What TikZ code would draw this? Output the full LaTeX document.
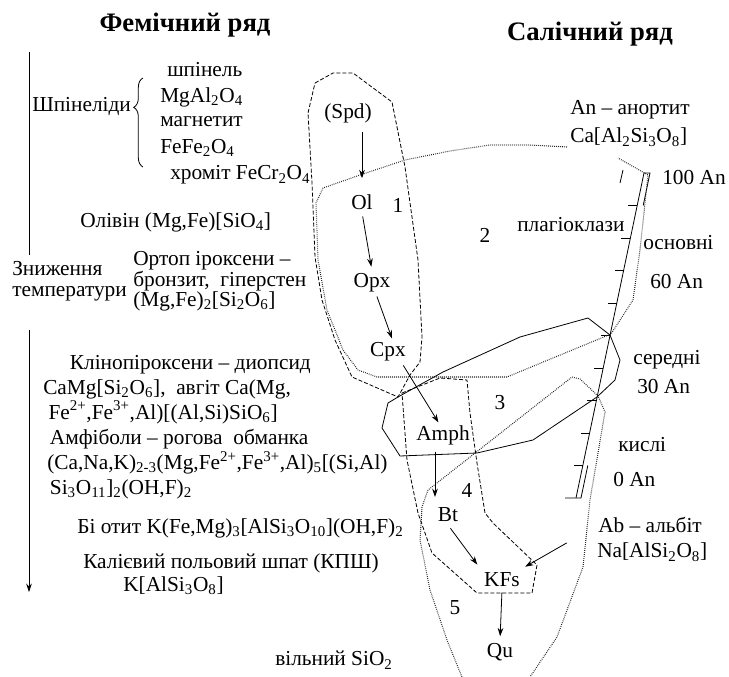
\documentclass[tikz,border=0pt]{standalone}
\usepackage{fontspec}
\setmainfont{Liberation Serif}
\usetikzlibrary{arrows.meta,calc,decorations.pathreplacing}
\newcommand{\subs}[1]{\textsubscript{#1}}
\newcommand{\sups}[1]{\textsuperscript{#1}}
\tikzset{
  heading/.style={font=\fontsize{20}{24}\selectfont\bfseries, inner sep=0pt},
  label/.style={font=\fontsize{16}{19}\selectfont, inner sep=0pt, anchor=west},
  block/.style={label, align=left},
  mineral/.style={font=\fontsize{16}{19}\selectfont, inner sep=2pt},
  zoneno/.style={font=\fontsize{16}{19}\selectfont, inner sep=0pt},
  arrow/.style={-{Stealth[length=2.2mm,width=1.5mm]}, semithick},
  dashzone/.style={dash pattern=on 3pt off 1.5pt, semithick},
  dotzone/.style={dash pattern=on 0.6pt off 0.9pt, line width=0.8pt, black!85},
  solidzone/.style={semithick},
  tick/.style={semithick}
}
\begin{document}
\begin{tikzpicture}[x=0.75pt,y=-0.75pt]
  \useasboundingbox (0,0) rectangle (729,677);
  \node[heading] (fem) at (185,25) {Фемічний ряд};
  \node[heading] (sal) at (590,34) {Салічний ряд};

  % temperature axis
  \coordinate (axtop) at (29,52);
  \coordinate (axgap1) at (29,255);
  \coordinate (axgap2) at (29,330);
  \coordinate (axbot) at (29,592);
  \draw[semithick] (axtop) -- (axgap1);
  \draw[arrow] (axgap2) -- (axbot);
  \node[block, font=\fontsize{16}{15.5}\selectfont] (cool) at (12,281) {Зниження\\температури};

  % femic series
  \node[label] (spinels) at (32,107) {Шпінеліди};
  \draw[semithick, decorate, decoration={brace, amplitude=7pt, aspect=0.67}] (143,167) -- (143,78);
  \node[label] (spl) at (167,70) {шпінель};
  \node[label] (mgal) at (160,97) {MgAl\subs{2}O\subs{4}};
  \node[label] (mgt) at (160,122) {магнетит};
  \node[label] (fefe) at (160,148) {FeFe\subs{2}O\subs{4}};
  \node[label] (chr) at (170,175) {хроміт FeCr\subs{2}O\subs{4}};
  \node[label] (oliv) at (80,222) {Олівін (Mg,Fe)[SiO\subs{4}]};
  \node[block, font=\fontsize{16}{14.8}\selectfont] (opx) at (133,281)
    {Ортоп іроксени –\\бронзит,\ \ гіперстен\\(Mg,Fe)\subs{2}[Si\subs{2}O\subs{6}]};
  \node[block, font=\fontsize{16}{18.8}\selectfont] (cpxamp) at (43,427)
    {\hspace*{20pt}Клінопіроксени – диопсид\\
     CaMg[Si\subs{2}O\subs{6}],\ \ авгіт Ca(Mg,\\
     \hspace*{4pt}Fe\sups{2+},Fe\sups{3+},Al)[(Al,Si)SiO\subs{6}]\\
     \hspace*{5pt}Амфіболи – рогова\ \ обманка\\
     \hspace*{3pt}(Ca,Na,K)\subs{2-3}(Mg,Fe\sups{2+},Fe\sups{3+},Al)\subs{5}[(Si,Al)\\
     \hspace*{5pt}Si\subs{3}O\subs{11}]\subs{2}(OH,F)\subs{2}};
  \node[label] (bio) at (77,528) {Бі отит K(Fe,Mg)\subs{3}[AlSi\subs{3}O\subs{10}](OH,F)\subs{2}};
  \node[block, font=\fontsize{16}{17.3}\selectfont] (kps) at (83,574)
    {Калієвий польовий шпат (КПШ)\\\hspace*{30pt}K[AlSi\subs{3}O\subs{8}]};
  \node[label] (quartz) at (275,660) {вільний SiO\subs{2}};

  % salic series
  \node[label] (an1) at (570,110) {An – анортит};
  \node[label] (an2) at (570,137) {Ca[Al\subs{2}Si\subs{3}O\subs{8}]};
  \node[label] (an100) at (662,178) {100 An};
  \node[label] (plag) at (517,225) {плагіоклази};
  \node[label] (basic) at (643,243) {основні};
  \node[label] (an60) at (650,282) {60 An};
  \node[label] (inter) at (633,360) {середні};
  \node[label] (an30) at (637,387) {30 An};
  \node[label] (acid) at (618,445) {кислі};
  \node[label] (an0) at (613,480) {0 An};
  \node[label] (ab1) at (598,525) {Ab – альбіт};
  \node[label] (ab2) at (597,552) {Na[AlSi\subs{2}O\subs{8}]};

  % plagioclase scale
  \coordinate (stop) at (644,173);
  \coordinate (sbot) at (576,498);
  \draw[tick] (stop) -- (sbot);
  \foreach \k in {1,...,9}
    \draw[tick] ($(stop)!\k/10!(sbot)$) -- ++(-9,0);
  \draw[tick] (stop) -- ++(6,0) -- ($(stop)!0.1!(sbot)+(6,0)$);
  \draw[tick] ($(stop)!0.9!(sbot)+(5,0)$) -- ($(sbot)+(5,0)$) -- ++(-16,0);
  \draw[tick] (623,170) -- (620,183);

  % zones
  \draw[dashzone] (315,83) -- (333,73) -- (353,73) -- (392,102) -- (405,167) -- (418,260)
    -- (422,337) -- (420,362) -- (410,375) -- (398,397) -- (352,377) -- (335,340)
    -- (322,300) -- (315,257) -- (312,183) -- (308,113) -- cycle;
  \draw[dotzone] (567,147) -- (530,145) -- (490,145) -- (450,151) -- (405,160) -- (360,175)
    -- (323,188) -- (316,203) -- (318,260) -- (327,310) -- (343,350) -- (358,370)
    -- (377,377) -- (507,377) -- (611,334) -- (633,300) -- (640,250) -- (648,175) -- (618,158);
  \draw[solidzone] (398,397) -- (443,372) -- (520,337) -- (588,318) -- (610,335) -- (620,360)
    -- (615,380) -- (597,397) -- (533,440) -- (477,453) -- (400,456) -- (382,428)
    -- (388,403) -- cycle;
  \draw[dashzone] (402,393) -- (440,378) -- (467,380) -- (470,413) -- (477,463) -- (485,513)
    -- (493,523) -- (537,565) -- (532,593) -- (477,593) -- (432,553) -- (418,513)
    -- (407,460) -- cycle;
  \draw[dotzone] (462,677) -- (447,640) -- (430,590) -- (420,540) -- (422,507) -- (428,490)
    -- (572,377) -- (580,379) -- (598,396) -- (605,412) -- (590,500) -- (583,567)
    -- (557,637) -- (530,677);

  \node[zoneno] (z1) at (398,205) {1};
  \node[zoneno] (z2) at (485,235) {2};
  \node[zoneno] (z3) at (500,403) {3};
  \node[zoneno] (z4) at (467,490) {4};
  \node[zoneno] (z5) at (455,608) {5};

  % crystallisation sequence
  \node[mineral] (Spd) at (348,113) {(Spd)};
  \node[mineral] (Ol) at (362,202) {Ol};
  \node[mineral] (Opx) at (372,283) {Opx};
  \node[mineral] (Cpx) at (388,352) {Cpx};
  \node[mineral] (Amph) at (443,435) {Amph};
  \node[mineral] (Bt) at (448,515) {Bt};
  \node[mineral] (KFs) at (502,580) {KFs};
  \node[mineral] (Qu) at (500,652) {Qu};
  \draw[arrow, shorten <=5pt, shorten >=10pt] (Spd.south -| Ol.north) -- (Ol.north);
  \draw[arrow, shorten <=3pt, shorten >=3pt] (Ol.south) -- (Opx.north);
  \draw[arrow, shorten <=1pt, shorten >=1pt] (Opx.-70) -- (Cpx.70);
  \draw[arrow, shorten <=1pt] (Cpx.-40) -- (Amph.110);
  \draw[arrow, shorten <=3pt, shorten >=6pt] (Amph.south -| Bt.west) -- (Bt.north -| Bt.west);
  \draw[arrow, shorten <=3pt, shorten >=5pt] (Bt.south) -- (KFs.north west);
  \draw[arrow, shorten <=27pt, shorten >=20pt] (ab1.west) -- (KFs.center);
  \draw[arrow, shorten <=2pt, shorten >=3pt] (KFs.south) -- (Qu.north);
\end{tikzpicture}
\end{document}
